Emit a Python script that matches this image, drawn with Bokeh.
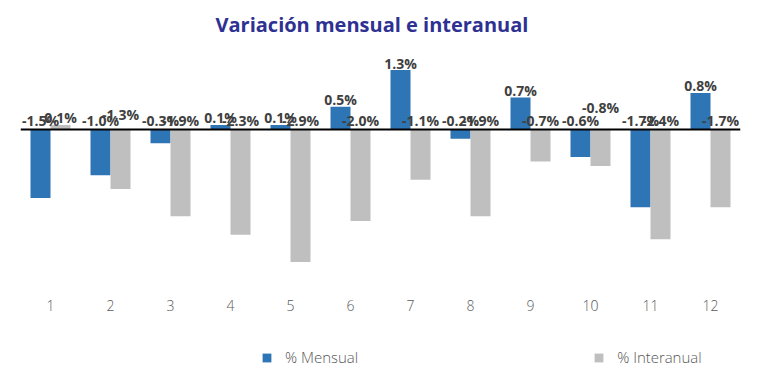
from bokeh.plotting import figure
from bokeh.models import ColumnDataSource, Range1d, Span, FixedTicker, Legend, LegendItem
from bokeh.core.properties import value
from bokeh.embed import file_html
from bokeh.resources import INLINE

# ---- data ----
months = [1, 2, 3, 4, 5, 6, 7, 8, 9, 10, 11, 12]
mensual = [-1.5, -1.0, -0.3, 0.1, 0.1, 0.5, 1.3, -0.2, 0.7, -0.6, -1.7, 0.8]
interanual = [0.1, -1.3, -1.9, -2.3, -2.9, -2.0, -1.1, -1.9, -0.7, -0.8, -2.4, -1.7]
series_names = ["% Mensual", "% Interanual"]
title_text = "Variación mensual e interanual"

# ---- layout tweaks (label collision shifts, px) ----
shift_m = [0] * 12
shift_i = [0, 6, 0, 0, 0, 0, 0, 0, 0, 13, 0, 0]

BLUE = "#2E75B6"
GRAY = "#BFBFBF"
FONT = "Open Sans"
LIGHT = "'Open Sans Light', 'Open Sans'"

Y_TOP, Y_BOT, AXIS_AT = 1.728, -5.337, -3.6

p = figure(width=752, height=373, output_backend="svg", toolbar_location=None,
           x_range=Range1d(0.5, 12.5), y_range=Range1d(Y_BOT, Y_TOP),
           min_border_left=20, min_border_right=12, min_border_top=48, min_border_bottom=0)
p.outline_line_color = None
p.grid.visible = False
p.yaxis.visible = False

p.title.text = title_text
p.title.text_font = FONT
p.title.text_font_size = "20px"
p.title.text_font_style = "bold"
p.title.text_color = "#2E3192"
p.title.align = "left"
p.title.offset = 195
p.title.standoff = 21
p.title.vertical_align = "top"

xa = p.xaxis[0]
xa.fixed_location = AXIS_AT
xa.ticker = FixedTicker(ticks=months)
xa.axis_line_color = None
xa.major_tick_line_color = None
xa.minor_tick_line_color = None
xa.major_tick_out = 0
xa.major_label_standoff = 6
xa.major_label_text_font = LIGHT
xa.major_label_text_font_size = "14px"
xa.major_label_text_color = "#595959"


def label_offsets(vals, shifts):
    return [-7 - s - (2 if v < 0 else 0) for v, s in zip(vals, shifts)]


w = 1 / 3
src_m = ColumnDataSource(dict(
    x=[m - w / 2 for m in months], top=mensual,
    ly=[max(v, 0) for v in mensual],
    lab=[f"{v:.1f}%" for v in mensual],
    off=label_offsets(mensual, shift_m)))
src_i = ColumnDataSource(dict(
    x=[m + w / 2 for m in months], top=interanual,
    ly=[max(v, 0) for v in interanual],
    lab=[f"{v:.1f}%" for v in interanual],
    off=label_offsets(interanual, shift_i)))

r_m = p.vbar(x="x", top="top", bottom=0, width=w, source=src_m, fill_color=BLUE, line_color=None)
r_i = p.vbar(x="x", top="top", bottom=0, width=w, source=src_i, fill_color=GRAY, line_color=None)

p.add_layout(Span(location=0, dimension="width", line_color="black", line_width=2))

for src in (src_m, src_i):
    p.text(x="x", y="ly", text="lab", y_offset="off", source=src,
           text_font=value(FONT), text_font_size="14px", text_font_style="bold",
           text_color="#404040", text_align="center", text_baseline="middle")

legend = Legend(items=[LegendItem(label=series_names[0], renderers=[r_m]),
                       LegendItem(label=series_names[1], renderers=[r_i])],
                orientation="horizontal", location=(241, 6),
                glyph_width=11, glyph_height=11, label_standoff=13, spacing=235,
                padding=0, margin=0, border_line_color=None, background_fill_alpha=0,
                label_text_font=LIGHT, label_text_font_size="15px", label_text_color="#595959")
p.add_layout(legend)

open("out.html", "w").write(file_html(p, INLINE))
